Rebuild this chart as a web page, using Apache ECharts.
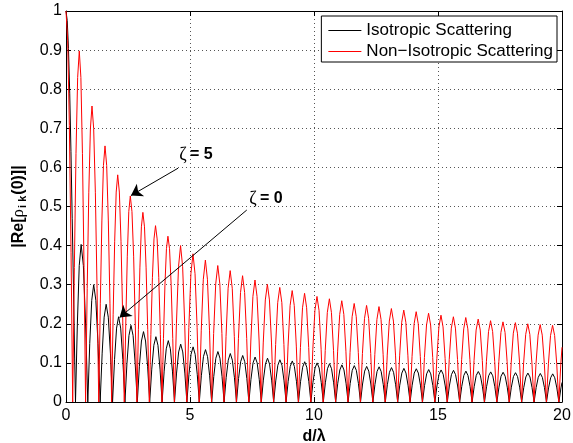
<!DOCTYPE html>
<html>
<head>
<meta charset="utf-8">
<script src="https://cdn.jsdelivr.net/npm/echarts@6/dist/echarts.min.js"></script>
<style>
  html, body { margin: 0; padding: 0; background: #fff; }
  #chart { width: 573px; height: 443px; }
</style>
</head>
<body>
<div id="chart"></div>
<script>
// series names
const seriesNames = ["Isotropic Scattering", "Non\u2212Isotropic Scattering"];

// [d/lambda, |Re rho|] (one row per lobe)
const isotropic = [
  [0, 1], [0.05, 0.975], [0.1, 0.904], [0.15, 0.79], [0.2, 0.64], [0.25, 0.47], [0.3, 0.3], [0.35, 0.11], [0.383, 0],
  [0.459, 0.202], [0.534, 0.349], [0.61, 0.403], [0.70, 0.349], [0.789, 0.202], [0.879, 0],
  [0.958, 0.150], [1.038, 0.260], [1.117, 0.300], [1.204, 0.260], [1.29, 0.150], [1.377, 0],
  [1.458, 0.125], [1.538, 0.217], [1.619, 0.250], [1.705, 0.217], [1.791, 0.125], [1.877, 0],
  [1.958, 0.109], [2.039, 0.189], [2.12, 0.218], [2.205, 0.189], [2.291, 0.109], [2.376, 0],
  [2.457, 0.098], [2.539, 0.170], [2.62, 0.196], [2.705, 0.170], [2.79, 0.098], [2.875, 0],
  [2.958, 0.090], [3.042, 0.156], [3.125, 0.180], [3.208, 0.156], [3.292, 0.090], [3.375, 0],
  [3.458, 0.084], [3.542, 0.145], [3.625, 0.167], [3.708, 0.145], [3.792, 0.084], [3.875, 0],
  [3.958, 0.079], [4.042, 0.136], [4.125, 0.157], [4.208, 0.136], [4.292, 0.079], [4.375, 0],
  [4.458, 0.074], [4.542, 0.128], [4.625, 0.148], [4.708, 0.128], [4.792, 0.074], [4.875, 0],
  [4.958, 0.071], [5.042, 0.122], [5.125, 0.141], [5.208, 0.122], [5.292, 0.071], [5.375, 0],
  [5.458, 0.067], [5.542, 0.116], [5.625, 0.134], [5.708, 0.116], [5.792, 0.067], [5.875, 0],
  [5.958, 0.065], [6.042, 0.112], [6.125, 0.129], [6.208, 0.112], [6.292, 0.065], [6.375, 0],
  [6.458, 0.062], [6.542, 0.107], [6.625, 0.124], [6.708, 0.107], [6.792, 0.062], [6.875, 0],
  [6.958, 0.060], [7.042, 0.103], [7.125, 0.119], [7.208, 0.103], [7.292, 0.060], [7.375, 0],
  [7.458, 0.058], [7.542, 0.100], [7.625, 0.115], [7.708, 0.100], [7.792, 0.058], [7.875, 0],
  [7.958, 0.056], [8.042, 0.097], [8.125, 0.112], [8.208, 0.097], [8.292, 0.056], [8.375, 0],
  [8.458, 0.054], [8.542, 0.094], [8.625, 0.108], [8.708, 0.094], [8.792, 0.054], [8.875, 0],
  [8.958, 0.053], [9.042, 0.091], [9.125, 0.105], [9.208, 0.091], [9.292, 0.053], [9.375, 0],
  [9.458, 0.052], [9.542, 0.089], [9.625, 0.103], [9.708, 0.089], [9.792, 0.052], [9.875, 0],
  [9.958, 0.050], [10.042, 0.087], [10.125, 0.100], [10.208, 0.087], [10.292, 0.050], [10.375, 0],
  [10.458, 0.049], [10.542, 0.085], [10.625, 0.098], [10.708, 0.085], [10.792, 0.049], [10.875, 0],
  [10.958, 0.048], [11.042, 0.082], [11.125, 0.095], [11.208, 0.082], [11.292, 0.048], [11.375, 0],
  [11.458, 0.047], [11.542, 0.081], [11.625, 0.093], [11.708, 0.081], [11.792, 0.047], [11.875, 0],
  [11.958, 0.046], [12.042, 0.079], [12.125, 0.091], [12.208, 0.079], [12.292, 0.046], [12.375, 0],
  [12.458, 0.045], [12.542, 0.078], [12.625, 0.090], [12.708, 0.078], [12.792, 0.045], [12.875, 0],
  [12.958, 0.044], [13.042, 0.076], [13.125, 0.088], [13.208, 0.076], [13.292, 0.044], [13.375, 0],
  [13.458, 0.043], [13.542, 0.074], [13.625, 0.086], [13.708, 0.074], [13.792, 0.043], [13.875, 0],
  [13.958, 0.043], [14.042, 0.074], [14.125, 0.085], [14.208, 0.074], [14.292, 0.043], [14.375, 0],
  [14.458, 0.042], [14.542, 0.072], [14.625, 0.083], [14.708, 0.072], [14.792, 0.042], [14.875, 0],
  [14.958, 0.041], [15.042, 0.071], [15.125, 0.082], [15.208, 0.071], [15.292, 0.041], [15.375, 0],
  [15.458, 0.041], [15.542, 0.070], [15.625, 0.081], [15.708, 0.070], [15.792, 0.041], [15.875, 0],
  [15.958, 0.040], [16.042, 0.068], [16.125, 0.079], [16.208, 0.068], [16.292, 0.040], [16.375, 0],
  [16.458, 0.039], [16.542, 0.068], [16.625, 0.078], [16.708, 0.068], [16.792, 0.039], [16.875, 0],
  [16.958, 0.039], [17.042, 0.067], [17.125, 0.077], [17.208, 0.067], [17.292, 0.039], [17.375, 0],
  [17.458, 0.038], [17.542, 0.066], [17.625, 0.076], [17.708, 0.066], [17.792, 0.038], [17.875, 0],
  [17.958, 0.038], [18.042, 0.065], [18.125, 0.075], [18.208, 0.065], [18.292, 0.038], [18.375, 0],
  [18.458, 0.037], [18.542, 0.064], [18.625, 0.074], [18.708, 0.064], [18.792, 0.037], [18.875, 0],
  [18.958, 0.037], [19.042, 0.063], [19.125, 0.073], [19.208, 0.063], [19.292, 0.037], [19.375, 0],
  [19.458, 0.036], [19.542, 0.062], [19.625, 0.072], [19.708, 0.062], [19.792, 0.036], [19.875, 0],
  [19.958, 0.036], [20.0, 0.05]
];

// [d/lambda, |Re rho|] (one row per lobe)
const nonIsotropic = [
  [0, 1], [0.068, 0.924], [0.135, 0.707], [0.203, 0.383], [0.27, 0],
  [0.337, 0.344], [0.403, 0.635], [0.47, 0.830], [0.536, 0.898], [0.6, 0.830], [0.663, 0.635], [0.727, 0.344], [0.79, 0],
  [0.855, 0.290], [0.919, 0.535], [0.984, 0.699], [1.048, 0.757], [1.116, 0.699], [1.184, 0.535], [1.252, 0.290], [1.32, 0],
  [1.383, 0.251], [1.447, 0.463], [1.51, 0.605], [1.573, 0.655], [1.64, 0.605], [1.707, 0.463], [1.773, 0.251], [1.84, 0],
  [1.901, 0.223], [1.963, 0.411], [2.024, 0.537], [2.085, 0.581], [2.151, 0.537], [2.218, 0.411], [2.284, 0.223], [2.35, 0],
  [2.411, 0.202], [2.472, 0.373], [2.532, 0.487], [2.593, 0.527], [2.66, 0.487], [2.727, 0.373], [2.793, 0.202], [2.86, 0],
  [2.92, 0.186], [2.98, 0.343], [3.04, 0.448], [3.1, 0.485], [3.165, 0.448], [3.23, 0.343], [3.295, 0.186], [3.36, 0],
  [3.423, 0.173], [3.485, 0.319], [3.548, 0.417], [3.61, 0.451], [3.675, 0.417], [3.74, 0.319], [3.805, 0.173], [3.87, 0],
  [3.93, 0.162], [3.99, 0.300], [4.05, 0.392], [4.11, 0.424], [4.175, 0.392], [4.24, 0.300], [4.305, 0.162], [4.37, 0],
  [4.453, 0.200], [4.537, 0.346], [4.62, 0.400], [4.703, 0.346], [4.787, 0.200], [4.87, 0],
  [4.953, 0.190], [5.037, 0.328], [5.12, 0.379], [5.203, 0.328], [5.287, 0.190], [5.37, 0],
  [5.453, 0.182], [5.537, 0.314], [5.62, 0.363], [5.703, 0.314], [5.787, 0.182], [5.87, 0],
  [5.953, 0.175], [6.037, 0.302], [6.12, 0.349], [6.203, 0.302], [6.287, 0.175], [6.37, 0],
  [6.453, 0.168], [6.537, 0.291], [6.62, 0.336], [6.703, 0.291], [6.787, 0.168], [6.87, 0],
  [6.953, 0.162], [7.037, 0.280], [7.12, 0.323], [7.203, 0.280], [7.287, 0.162], [7.37, 0],
  [7.453, 0.156], [7.537, 0.270], [7.62, 0.312], [7.703, 0.270], [7.787, 0.156], [7.87, 0],
  [7.953, 0.151], [8.037, 0.261], [8.12, 0.301], [8.203, 0.261], [8.287, 0.151], [8.37, 0],
  [8.453, 0.147], [8.537, 0.254], [8.62, 0.293], [8.703, 0.254], [8.787, 0.147], [8.87, 0],
  [8.953, 0.143], [9.037, 0.247], [9.12, 0.285], [9.203, 0.247], [9.287, 0.143], [9.37, 0],
  [9.453, 0.139], [9.537, 0.241], [9.62, 0.278], [9.703, 0.241], [9.787, 0.139], [9.87, 0],
  [9.953, 0.135], [10.037, 0.234], [10.12, 0.270], [10.203, 0.234], [10.287, 0.135], [10.37, 0],
  [10.453, 0.132], [10.537, 0.229], [10.62, 0.264], [10.703, 0.229], [10.787, 0.132], [10.87, 0],
  [10.953, 0.130], [11.037, 0.224], [11.12, 0.259], [11.203, 0.224], [11.287, 0.130], [11.37, 0],
  [11.453, 0.126], [11.537, 0.218], [11.62, 0.252], [11.703, 0.218], [11.787, 0.126], [11.87, 0],
  [11.953, 0.124], [12.037, 0.214], [12.12, 0.247], [12.203, 0.214], [12.287, 0.124], [12.37, 0],
  [12.453, 0.122], [12.537, 0.211], [12.62, 0.244], [12.703, 0.211], [12.787, 0.122], [12.87, 0],
  [12.953, 0.120], [13.037, 0.207], [13.12, 0.239], [13.203, 0.207], [13.287, 0.120], [13.37, 0],
  [13.453, 0.118], [13.537, 0.204], [13.62, 0.235], [13.703, 0.204], [13.787, 0.118], [13.87, 0],
  [13.953, 0.116], [14.037, 0.200], [14.12, 0.231], [14.203, 0.200], [14.287, 0.116], [14.37, 0],
  [14.453, 0.114], [14.537, 0.197], [14.62, 0.227], [14.703, 0.197], [14.787, 0.114], [14.87, 0],
  [14.953, 0.111], [15.037, 0.192], [15.12, 0.222], [15.203, 0.192], [15.287, 0.111], [15.37, 0],
  [15.453, 0.109], [15.537, 0.189], [15.62, 0.218], [15.703, 0.189], [15.787, 0.109], [15.87, 0],
  [15.953, 0.108], [16.037, 0.187], [16.12, 0.216], [16.203, 0.187], [16.287, 0.108], [16.37, 0],
  [16.453, 0.106], [16.537, 0.184], [16.62, 0.212], [16.703, 0.184], [16.787, 0.106], [16.87, 0],
  [16.953, 0.104], [17.037, 0.180], [17.12, 0.208], [17.203, 0.180], [17.287, 0.104], [17.37, 0],
  [17.453, 0.103], [17.537, 0.178], [17.62, 0.205], [17.703, 0.178], [17.787, 0.103], [17.87, 0],
  [17.953, 0.102], [18.037, 0.176], [18.12, 0.203], [18.203, 0.176], [18.287, 0.102], [18.37, 0],
  [18.453, 0.100], [18.537, 0.173], [18.62, 0.200], [18.703, 0.173], [18.787, 0.100], [18.87, 0],
  [18.953, 0.099], [19.037, 0.171], [19.12, 0.198], [19.203, 0.171], [19.287, 0.099], [19.37, 0],
  [19.453, 0.098], [19.537, 0.170], [19.62, 0.196], [19.703, 0.170], [19.787, 0.098], [19.87, 0],
  [19.953, 0.098], [20.0, 0.14]
];

const font = "Liberation Sans";

let myChart = echarts.init(document.getElementById("chart"), null, { renderer: "canvas" });

function boxAxis(extra) {
  // plain axis used for the top / right frame with inward ticks
  return Object.assign({
    type: "value",
    axisLine: { show: true, onZero: false, lineStyle: { color: "#000", width: 1 } },
    axisTick: { show: true, inside: true, length: 5, lineStyle: { color: "#000" } },
    axisLabel: { show: false },
    splitLine: { show: false },
  }, extra);
}

const gridLine = { show: true, lineStyle: { color: "#555", width: 1, type: [1, 3] } };

let option = {
  animation: false,
  textStyle: { fontFamily: font },
  grid: { left: 66, right: 11, top: 11, bottom: 41, containLabel: false, outerBoundsMode: "none" },
  legend: {
    orient: "vertical",
    right: 16,
    top: 16,
    padding: [6, 4, 2, 7],
    itemGap: 4,
    itemWidth: 33,
    itemHeight: 1,
    icon: "rect",
    backgroundColor: "#fff",
    borderColor: "#000",
    borderWidth: 1,
    borderRadius: 0,
    textStyle: { fontFamily: font, fontSize: 17, color: "#000" },
    data: seriesNames,
  },
  xAxis: [
    {
      type: "value",
      min: 0,
      max: 20,
      interval: 5,
      name: "d/λ",
      nameLocation: "middle",
      nameGap: 25,
      nameTextStyle: { fontFamily: font, fontSize: 16, fontWeight: "bold", color: "#000" },
      axisLine: { show: true, onZero: false, lineStyle: { color: "#000", width: 1 } },
      axisTick: { show: true, inside: true, length: 5, lineStyle: { color: "#000" } },
      axisLabel: { color: "#000", fontSize: 16, fontFamily: font, margin: 6 },
      splitLine: gridLine,
    },
    boxAxis({ position: "top", min: 0, max: 20, interval: 5 }),
  ],
  yAxis: [
    {
      type: "value",
      min: 0,
      max: 1,
      interval: 0.1,
      name: "|Re[{g|ρ}{s|i k}(0)]|",
      nameLocation: "middle",
      nameGap: 33,
      nameTextStyle: {
        fontFamily: font,
        fontSize: 16,
        fontWeight: "bold",
        color: "#000",
        rich: {
          g: { fontFamily: "Liberation Serif", fontSize: 17, fontWeight: "normal", color: "#000" },
          s: { fontFamily: font, fontSize: 11, fontWeight: "bold", color: "#000", padding: [9, 1, 0, 1] },
        },
      },
      axisLine: { show: true, onZero: false, lineStyle: { color: "#000", width: 1 } },
      axisTick: { show: true, inside: true, length: 5, lineStyle: { color: "#000" } },
      axisLabel: { color: "#000", fontSize: 16, fontFamily: font, margin: 4 },
      splitLine: gridLine,
    },
    boxAxis({ position: "right", min: 0, max: 1, interval: 0.1 }),
  ],
  series: [
    {
      name: seriesNames[0],
      type: "line",
      data: isotropic,
      symbol: "none",
      showSymbol: false,
      lineStyle: { color: "#000", width: 1 },
      itemStyle: { color: "#000" },
    },
    {
      name: seriesNames[1],
      type: "line",
      data: nonIsotropic,
      symbol: "none",
      showSymbol: false,
      lineStyle: { color: "#f00", width: 1 },
      itemStyle: { color: "#f00" },
      markLine: {
        silent: true,
        animation: false,
        symbol: ["none", "arrow"],
        symbolSize: 11,
        label: { show: false },
        lineStyle: { color: "#000", width: 1, type: "solid" },
        data: [
          [{ coord: [4.52, 0.598] }, { coord: [2.62, 0.528] }],
          [{ coord: [7.29, 0.491] }, { coord: [2.16, 0.216] }],
        ],
      },
      markPoint: {
        silent: true,
        animation: false,
        symbol: "rect",
        symbolSize: 1,
        itemStyle: { color: "rgba(0,0,0,0)" },
        label: {
          show: true,
          position: "inside",
          color: "#000",
          rich: {
            z: { fontFamily: "Liberation Serif", fontSize: 18, color: "#000" },
            b: { fontFamily: font, fontSize: 16, fontWeight: "bold", color: "#000" },
          },
        },
        data: [
          { coord: [5.24, 0.632], label: { formatter: "{z|ζ} {b|= 5}" } },
          { coord: [8.06, 0.519], label: { formatter: "{z|ζ} {b|= 0}" } },
        ],
      },
    },
  ],
};

myChart.setOption(option);
</script>
</body>
</html>
